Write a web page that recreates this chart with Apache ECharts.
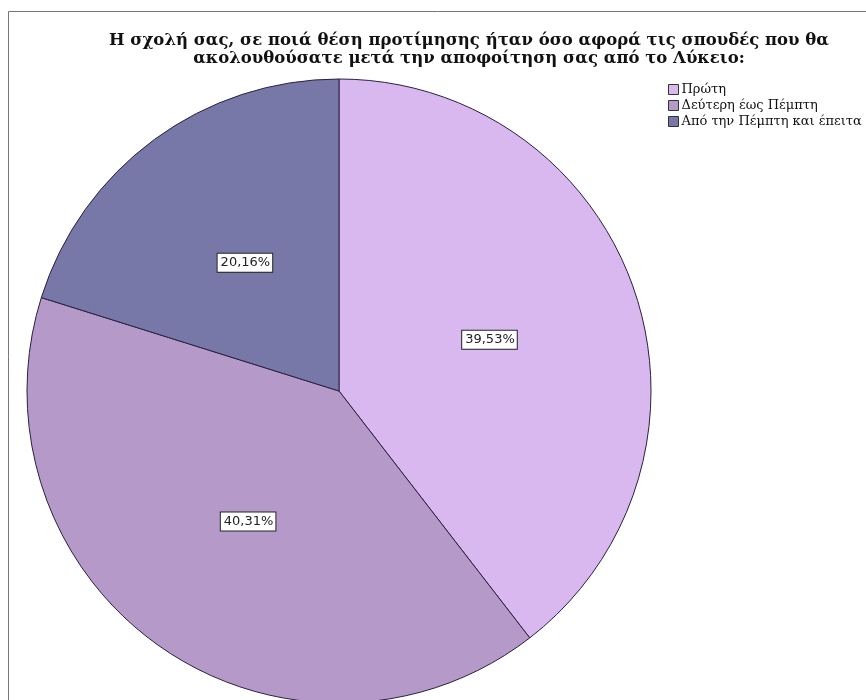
<!DOCTYPE html>
<html>
<head>
<meta charset="utf-8">
<script src="https://cdn.jsdelivr.net/npm/echarts@6/dist/echarts.min.js"></script>
<style>
html,body{margin:0;padding:0;background:#fff;}
#chart{width:866px;height:700px;}
</style>
</head>
<body>
<div id="chart"></div>
<script>
var categories = ['Πρώτη', 'Δεύτερη έως Πέμπτη', 'Από την Πέμπτη και έπειτα'];
var values = [39.53, 40.31, 20.16];
var colors = ['#D9B8F0', '#B599C8', '#7878A8'];
var titleLines = ['Η σχολή σας, σε ποιά θέση προτίμησης ήταν όσο αφορά τις σπουδές που θα',
                  'ακολουθούσατε μετά την αποφοίτηση σας από το Λύκειο:'];

var chart = echarts.init(document.getElementById('chart'), null, {renderer: 'canvas'});
var data = categories.map(function (c, i) {
  return {name: c, value: values[i], itemStyle: {color: colors[i]}};
});
chart.setOption({
  animation: false,
  backgroundColor: '#fff',
  graphic: [{
    type: 'rect', z: -1,
    shape: {x: 8.5, y: 11.5, width: 900, height: 720},
    style: {fill: 'none', stroke: '#777', lineWidth: 1}
  }, {
    type: 'text', x: 469, y: 32,
    style: {
      text: titleLines.join('\n'),
      font: 'bold 16.5px "DejaVu Serif", serif',
      fill: '#111', align: 'center', verticalAlign: 'top', lineHeight: 18
    }
  }],
  legend: {
    orient: 'vertical', left: 668, top: 83, padding: 0,
    itemWidth: 10, itemHeight: 10, itemGap: 3, icon: 'rect',
    selectedMode: false,
    itemStyle: {borderColor: '#333', borderWidth: 1},
    textStyle: {fontFamily: '"DejaVu Serif", serif', fontSize: 13, lineHeight: 11, color: '#111', padding: [0, 0, 0, -2]},
    data: categories
  },
  series: [{
    type: 'pie',
    center: [339, 391],
    radius: 312,
    startAngle: 90,
    clockwise: true,
    silent: true,
    data: data,
    itemStyle: {borderColor: '#2a2040', borderWidth: 1},
    labelLine: {show: false},
    label: {
      show: true, position: 'inside',
      formatter: function (p) { return p.value.toFixed(2).replace('.', ',') + '%'; },
      backgroundColor: '#fff', borderColor: '#222', borderWidth: 1,
      padding: [3, 2, 2, 3], color: '#222',
      fontFamily: '"DejaVu Sans", sans-serif', fontSize: 13
    },
    emphasis: {disabled: true}
  }]
});
</script>
</body>
</html>
